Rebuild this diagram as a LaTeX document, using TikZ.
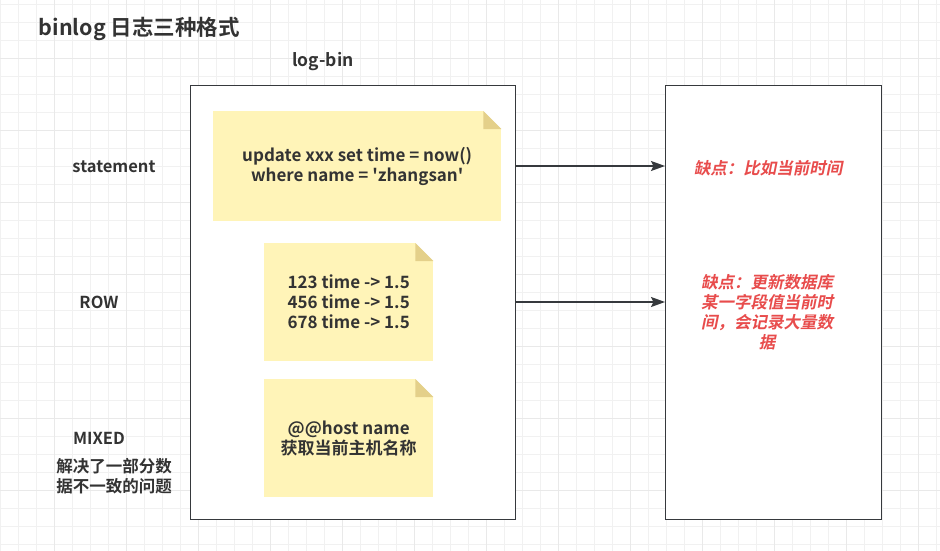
\documentclass[tikz,border=0pt]{standalone}
\usepackage{fontspec}
\setmainfont{Noto Sans CJK SC}[BoldFont=* Bold]
\newfontfamily\plainfont{Noto Sans CJK SC}[BoldFont=* Bold, Ligatures=TeXOff]
\newfontfamily\reditfont{Noto Sans CJK SC}[BoldFont=* Bold, FakeSlant=0.2]
\usetikzlibrary{arrows.meta}
\definecolor{txt}{HTML}{333333}
\definecolor{stroke}{HTML}{36393D}
\definecolor{notefill}{HTML}{FFF4B8}
\definecolor{notefold}{HTML}{E4D08A}
\definecolor{redtxt}{HTML}{E84C4C}
\definecolor{gridc}{HTML}{F1F1F1}
\definecolor{gridd}{HTML}{E9E9E9}
\tikzset{
  bigbox/.style={draw=stroke, line width=1.4pt, fill=white, minimum width=#1, anchor=north west, inner sep=0pt},
  notebox/.style={fill=notefill, draw=none, anchor=north west, inner sep=0pt, text=txt, align=center,
     font=\fontsize{17}{20}\selectfont\plainfont\bfseries},
  lbl/.style={text=txt, font=\fontsize{16.5}{20}\selectfont\bfseries, align=center, inner sep=0pt},
  redlbl/.style={text=redtxt, font=\fontsize{16.5}{20}\selectfont\reditfont\bfseries, align=center, inner sep=0pt},
  conn/.style={draw=stroke, line width=1.4pt, -{Stealth[length=14pt,width=10pt,inset=2.5pt]}},
}
\newcommand{\notefold}[1]{%
  \fill[white] ([xshift=-18pt]#1.north east) -- (#1.north east) -- ([yshift=-18pt]#1.north east) -- cycle;
  \fill[notefold] ([xshift=-18pt]#1.north east) -- ([yshift=-18pt]#1.north east) -- ([xshift=-18pt,yshift=-18pt]#1.north east) -- cycle;}
\begin{document}
\begin{tikzpicture}[x=1pt,y=-1pt]
\useasboundingbox (0,0) rectangle (940,551);
\fill[white] (0,0) rectangle (940,551);
% grid
\foreach \x in {0.3,18.3,...,940} \draw[gridc, line width=1pt] (\x,0) -- (\x,551);
\foreach \y in {4.7,22.7,...,551} \draw[gridc, line width=1pt] (0,\y) -- (940,\y);
\foreach \x in {54.3,126.3,...,940} \draw[gridd, line width=1pt] (\x,0) -- (\x,551);
\foreach \y in {58.7,130.7,...,551} \draw[gridd, line width=1pt] (0,\y) -- (940,\y);
% title
\node[anchor=west, text=txt, font=\fontsize{21.5}{24}\selectfont\bfseries, inner sep=0pt] (title) at (38.5,29) {binlog 日志三种格式};
\node[lbl, font=\fontsize{17.5}{20}\selectfont\bfseries] (logbin) at (323,62) {log-bin};
% big boxes
\node[bigbox=325pt, minimum height=434pt] (logbox) at (190,85) {};
\node[bigbox=216pt, minimum height=434pt] (resbox) at (665,85) {};
% notes
\node[notebox, minimum width=288pt, minimum height=110pt] (n1) at (213,111) {update xxx set time = now()\\where name = 'zhangsan'};
\notefold{n1}
\node[notebox, minimum width=169pt, minimum height=118pt] (n2) at (264,243) {123 time -> 1.5\\456 time -> 1.5\\678 time -> 1.5};
\notefold{n2}
\node[notebox, minimum width=169pt, minimum height=118pt] (n3) at (264,379) {@@host name\\获取当前主机名称};
\notefold{n3}
% left labels
\node[lbl] (stmt) at (114,167) {statement};
\node[lbl] (row) at (99,302) {ROW};
\node[lbl] (mixed) at (99,438) {MIXED};
\node[lbl] (mixednote) at (114,476) {解决了一部分数\\据不一致的问题};
% red texts
\node[redlbl] (r1) at (768,168) {缺点：比如当前时间};
\node[redlbl] (r2) at (767,312) {缺点：更新数据库\\某一字段值当前时\\间，会记录大量数\\据};
% connectors
\coordinate (a1s) at (logbox.east |- 0,166);
\coordinate (a1e) at (resbox.west |- 0,166);
\coordinate (a2s) at (logbox.east |- 0,302);
\coordinate (a2e) at (resbox.west |- 0,302);
\draw[conn] (a1s) -- (a1e);
\draw[conn] (a2s) -- (a2e);
\end{tikzpicture}
\end{document}
